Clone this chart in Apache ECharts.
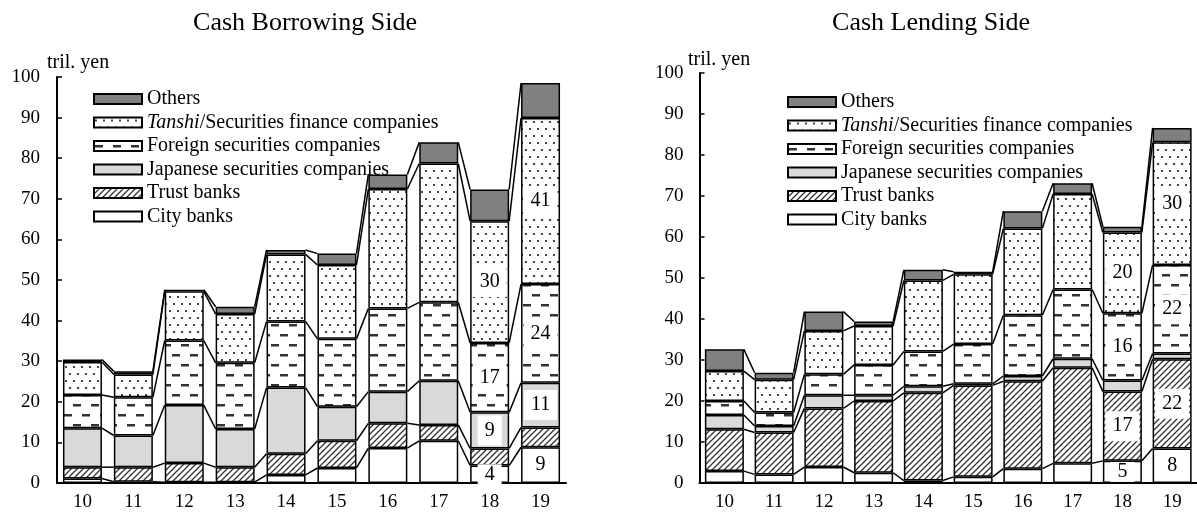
<!DOCTYPE html>
<html><head><meta charset="utf-8">
<script src="https://cdn.jsdelivr.net/npm/echarts/dist/echarts.min.js"></script>
</head>
<body style="margin:0;background:#fff">
<div id="c" style="width:1197px;height:512px"></div>
<script>
const categories = ['10','11','12','13','14','15','16','17','18','19'];
const seriesNames = ['City banks','Trust banks','Japanese securities companies','Foreign securities companies','Tanshi/Securities finance companies','Others'];
const yTicks = [0,10,20,30,40,50,60,70,80,90,100];

// Cash Borrowing Side (tril. yen)
const cityL    = [1.1, 0.3, 0.2, 0.2, 2.0, 3.7, 8.6, 10.4, 4.3, 8.8];
const trustL   = [2.8, 3.6, 4.7, 3.7, 5.2, 6.7, 6.1, 3.9, 4.2, 4.9];
const japL     = [9.6, 7.8, 14.3, 9.4, 16.3, 8.4, 7.8, 10.9, 8.9, 11.0];
const foreignL = [8.2, 9.4, 15.9, 16.3, 16.3, 16.7, 20.5, 19.3, 17.1, 24.3];
const tanshiL  = [8.1, 5.6, 12.1, 12.0, 16.5, 18.2, 29.4, 34.2, 30.0, 40.9];
const othersL  = [0.6, 0.8, 0.4, 1.8, 1.1, 2.8, 3.6, 5.2, 7.8, 8.6];

// Cash Lending Side (tril. yen)
const cityR    = [2.9, 2.1, 3.9, 2.5, 0.6, 1.5, 3.5, 4.8, 5.4, 8.4];
const trustR   = [10.2, 10.2, 14.3, 17.5, 21.4, 22.3, 21.3, 23.3, 16.9, 21.8];
const japR     = [3.5, 1.6, 3.2, 1.4, 1.6, 0.4, 1.3, 2.2, 2.7, 1.4];
const foreignR = [3.4, 3.3, 5.1, 7.4, 8.5, 9.7, 14.8, 16.9, 16.4, 21.6];
const tanshiR  = [7.3, 8.0, 10.6, 9.5, 17.3, 17.0, 21.2, 23.3, 19.7, 29.9];
const othersR  = [5.3, 1.7, 4.7, 1.1, 2.6, 0.6, 4.2, 2.6, 1.4, 3.5];

// which segments carry a value box (categories 18 and 19)
const labelCats = [8, 9];
const labelledL = [true, false, true, true, true, false];
const labelledR = [true, true, false, true, true, false];

const FONT = '"Liberation Serif", "DejaVu Serif", serif';

function pat(w, h, draw) {
  const c = document.createElement('canvas');
  c.width = w; c.height = h;
  const g = c.getContext('2d');
  g.fillStyle = '#fff'; g.fillRect(0, 0, w, h);
  draw(g);
  return { image: c, repeat: 'repeat' };
}
const fills = [
  '#ffffff',
  pat(6, 6, g => { g.strokeStyle = '#333'; g.lineWidth = 1.3; g.beginPath();
    g.moveTo(-1, 7); g.lineTo(7, -1); g.moveTo(-1, 1); g.lineTo(1, -1); g.moveTo(5, 7); g.lineTo(7, 5); g.stroke(); }),
  '#d9d9d9',
  pat(18, 20, g => { g.fillStyle = '#333'; g.fillRect(1, 4, 8, 2.5); g.fillRect(10, 14, 8, 2.5); }),
  pat(8, 14, g => { g.fillStyle = '#444'; g.fillRect(1, 2, 2, 2); g.fillRect(5, 9, 2, 2); }),
  '#808080'
];

const BW = 39;
const chart = echarts.init(document.getElementById('c'));

function barSeries(sets, gi, labelled) {
  return sets.map((vals, k) => ({
    type: 'bar', name: seriesNames[k], stack: 'S' + gi,
    xAxisIndex: gi, yAxisIndex: gi, barWidth: BW,
    itemStyle: { color: fills[k], borderColor: '#000', borderWidth: 1.5 },
    label: { show: false, position: 'inside', formatter: p => Math.round(p.value),
      backgroundColor: '#fff', padding: k === 0 ? [0, 7] : [5, 7], fontFamily: FONT, fontSize: 20, color: '#000' },
    animation: false,
    data: vals.map((v, i) => (labelled[k] && labelCats.includes(i)) ? { value: v, label: { show: true } } : v)
  }));
}

function connectorSeries(sets, gi) {
  const n = categories.length;
  const cum = [];
  for (let i = 0; i < n; i++) {
    let s = 0; const row = [];
    sets.forEach(vals => { s += vals[i]; row.push(s); });
    cum.push(row);
  }
  const data = [];
  for (let i = 0; i < n - 1; i++) data.push([i].concat(cum[i], cum[i + 1]));
  return {
    type: 'custom', xAxisIndex: gi, yAxisIndex: gi, silent: true, animation: false,
    encode: { x: 0, y: 1 },
    renderItem: (params, api) => {
      const i = api.value(0);
      const children = [];
      for (let k = 0; k < sets.length; k++) {
        const a = api.coord([i, api.value(1 + k)]);
        const b = api.coord([i + 1, api.value(1 + sets.length + k)]);
        children.push({ type: 'line', shape: { x1: a[0] + BW / 2, y1: a[1], x2: b[0] - BW / 2, y2: b[1] },
          style: { stroke: '#000', lineWidth: 1.5 } });
      }
      return { type: 'group', children };
    },
    data
  };
}

const setsL = [cityL, trustL, japL, foreignL, tanshiL, othersL];
const setsR = [cityR, trustR, japR, foreignR, tanshiR, othersR];

function xAxis(gi) {
  return { type: 'category', gridIndex: gi, data: categories,
    axisLine: { lineStyle: { color: '#000', width: 2 } },
    axisTick: { inside: true, length: 5, lineStyle: { color: '#000', width: 1.5 } },
    axisLabel: { color: '#000', fontFamily: FONT, fontSize: 19, margin: 10 } };
}
function yAxis(gi, margin) {
  return { type: 'value', gridIndex: gi, min: 0, max: 100, interval: 10,
    splitLine: { show: false },
    axisLine: { show: true, lineStyle: { color: '#000', width: 2 } },
    axisTick: { show: true, inside: true, length: 5, lineStyle: { color: '#000', width: 1.5 } },
    axisLabel: { color: '#000', fontFamily: FONT, fontSize: 19, margin: margin,
      formatter: v => yTicks.includes(v) ? String(v) : '' } };
}
function legend(left, top) {
  return { orient: 'vertical', left, top, itemWidth: 48, itemHeight: 10, itemGap: 3.5,
    selectedMode: false, icon: 'rect',
    data: seriesNames.slice().reverse(),
    itemStyle: { borderColor: '#000', borderWidth: 2 },
    formatter: name => name.indexOf('Tanshi') === 0 ? '{i|Tanshi}/Securities finance companies' : name,
    textStyle: { color: '#000', fontFamily: FONT, fontSize: 20, lineHeight: 20,
      rich: { i: { fontStyle: 'italic', fontFamily: FONT, fontSize: 20, color: '#000' } } } };
}

chart.setOption({
  animation: false,
  grid: [
    { left: 57, top: 77, width: 509, height: 410 },
    { left: 699.5, top: 73, width: 509, height: 414 }
  ],
  xAxis: [xAxis(0), xAxis(1)],
  yAxis: [yAxis(0, 17), yAxis(1, 16)],
  legend: [legend(88, 84), legend(782, 87)],
  graphic: [
    { type: 'text', x: 305, y: 23, style: { text: 'Cash Borrowing Side', font: '26px ' + FONT, fill: '#000', textAlign: 'center', textVerticalAlign: 'middle' } },
    { type: 'text', x: 931, y: 23, style: { text: 'Cash Lending Side', font: '26px ' + FONT, fill: '#000', textAlign: 'center', textVerticalAlign: 'middle' } },
    { type: 'text', x: 47, y: 63, style: { text: 'tril. yen', font: '20px ' + FONT, fill: '#000', textVerticalAlign: 'middle' } },
    { type: 'text', x: 688, y: 60, style: { text: 'tril. yen', font: '20px ' + FONT, fill: '#000', textVerticalAlign: 'middle' } }
  ],
  series: [].concat(barSeries(setsL, 0, labelledL), barSeries(setsR, 1, labelledR),
    [connectorSeries(setsL, 0), connectorSeries(setsR, 1)])
});
</script>
</body></html>
